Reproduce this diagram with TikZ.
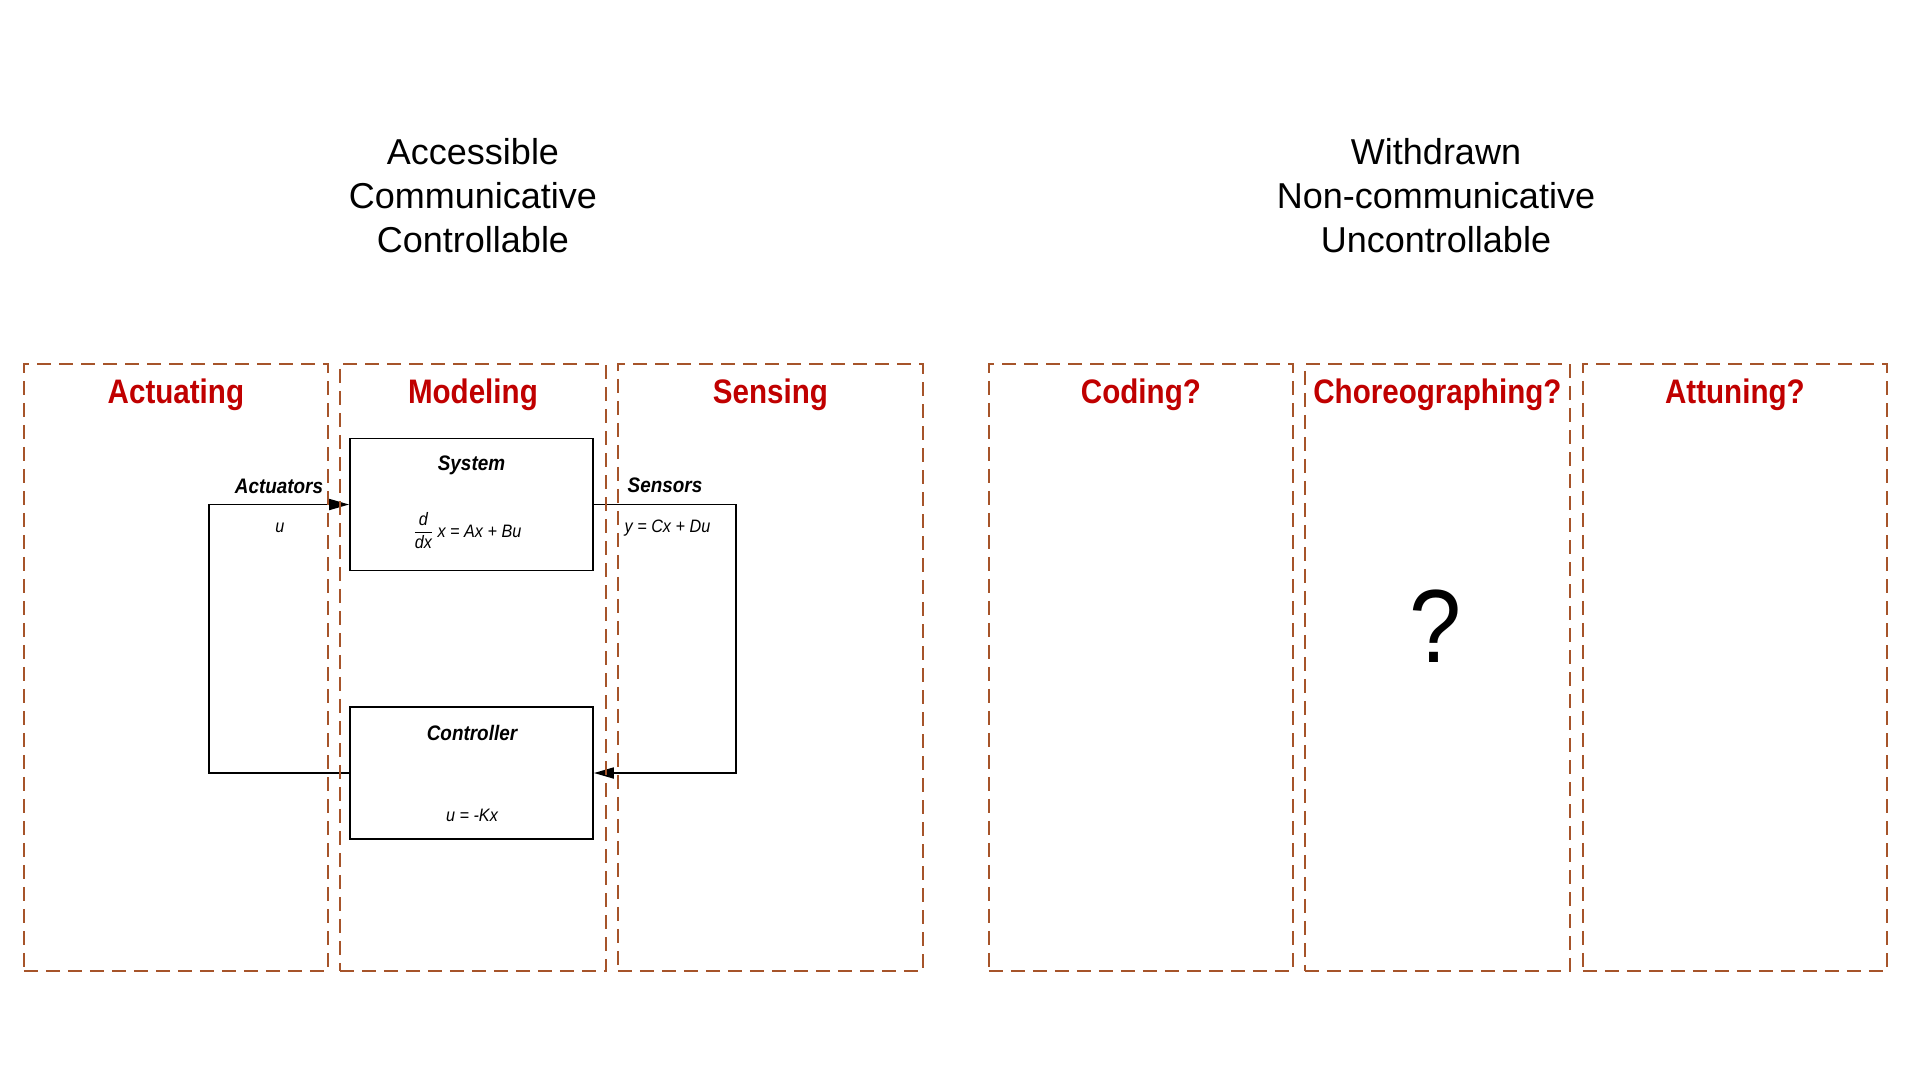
\documentclass[tikz,border=0pt]{standalone}
\usepackage{fontspec}
\setmainfont{Liberation Sans}
\newfontfamily\titlefont[FakeStretch=0.87]{Liberation Sans}
\newfontfamily\labelfont[FakeStretch=0.9]{Liberation Sans}
\usetikzlibrary{arrows.meta,positioning}
\definecolor{panelbrown}{RGB}{166,84,42}
\definecolor{titlered}{RGB}{192,0,0}
\begin{document}
\begin{tikzpicture}[x=1pt,y=-1pt,
  panel/.style={draw=panelbrown,line width=1.8pt,dash pattern=on 14pt off 8pt,inner sep=0pt},
  paneltitle/.style={text=titlered,font=\titlefont\bfseries\fontsize{34}{40}\selectfont,inner sep=0pt},
  header/.style={align=center,font=\fontsize{36}{44}\selectfont,inner sep=0pt},
  block/.style={draw,line width=1.8pt,minimum width=243pt,minimum height=132pt,inner sep=0pt},
  blocktitle/.style={font=\labelfont\bfseries\itshape\fontsize{21}{24}\selectfont,inner sep=0pt},
  blocktext/.style={font=\labelfont\itshape\fontsize{18}{22}\selectfont,inner sep=0pt},
  bigmark/.style={font=\labelfont\fontsize{104}{110}\selectfont,inner sep=0pt},
  wire/.style={line width=1.8pt},
  arrowtip/.style={-{Triangle[length=20pt,width=11pt]}}]
\useasboundingbox (0,0) rectangle (1920,1080);
\node[header] (acc) at (473,196) {Accessible\\Communicative\\Controllable};
\node[header] (wdr) at (1436,196) {Withdrawn\\Non-communicative\\Uncontrollable};
\node[block] (sys) at (471.5,504.5) {};
\node[block] (ctrl) at (471.5,773) {};
\node[blocktitle,anchor=base] (sys-t) at (471.5,470) {System};
\node[blocktext,anchor=base] (sys-eq) at (467.5,537) {\(\displaystyle\frac{\mbox{d}}{\mbox{dx}}\) x = Ax + Bu};
\node[blocktitle,anchor=base] (ctrl-t) at (472,740) {Controller};
\node[blocktext,anchor=base] (ctrl-eq) at (472,821) {u = -Kx};
\node[blocktitle,anchor=base] (act-l) at (279,493) {Actuators};
\node[blocktext,anchor=base] (act-u) at (280,532) {u};
\node[blocktitle,anchor=base] (sen-l) at (665,492) {Sensors};
\node[blocktext,anchor=base] (sen-y) at (667.5,532) {y = Cx + Du};
\coordinate (lft) at (209,773);
\coordinate (rgt) at (736,504.5);
\draw[wire,arrowtip] (ctrl.west) -- (lft) |- (sys.west);
\draw[wire,arrowtip] (sys.east) -- (rgt) |- (ctrl.east);
\foreach \name/\x/\w/\title in {act/23/304/Actuating, mod/339/266/Modeling, sen/617/305/Sensing, cod/988/304/Coding?, chor/1304/265/Choreographing?, att/1582/304/Attuning?} {
  \node[panel,anchor=north west,minimum width=\w pt,minimum height=607pt] (\name) at (\x,363) {};
  \node[paneltitle,anchor=base] (\name-title) at ([yshift=-40pt]\name.north) {\title};
}
\node[bigmark] (qm) at (1436,626) {?};
\end{tikzpicture}
\end{document}
